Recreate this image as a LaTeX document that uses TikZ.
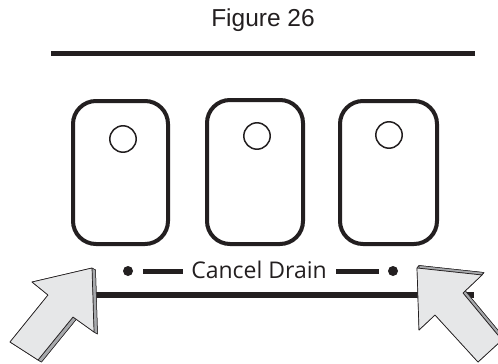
\documentclass[tikz,border=0pt]{standalone}
\usepackage{fontspec}
\setmainfont{Liberation Sans}
\newfontfamily\cdfont{Open Sans}
\usetikzlibrary{calc}
\definecolor{ink}{HTML}{231F20}
\definecolor{facegray}{HTML}{E6E7E8}
\definecolor{sidegray}{HTML}{A7A9AC}
\tikzset{
  btn/.style={draw=ink, line width=4pt, rounded corners=23pt},
  hole/.style={draw=ink, line width=1.5pt},
  thickbar/.style={draw=ink, line width=5pt},
  face/.style={fill=facegray, draw=ink, line width=0.7pt, line join=round},
  side/.style={fill=sidegray, draw=ink, line width=0.5pt, line join=round},
  dot/.style={circle, fill=ink, inner sep=0pt, minimum size=10pt},
}
\begin{document}
\begin{tikzpicture}[x=1pt,y=-1pt]
\useasboundingbox (0,0) rectangle (498,364);
\clip (0,0) rectangle (498,364);
\fill[white] (0,0) rectangle (498,364);

% title
\node[anchor=base, font=\fontsize{24.5}{28}\selectfont, text=ink, inner sep=0pt] (title) at (263,26) {Figure 26};
\coordinate (tl) at (51,53);
\coordinate (tr) at (475,53);
\draw[thickbar] (tl) -- (tr);

% buttons
\draw[btn] (73,101) rectangle (168,244);
\draw[btn] (207,100) rectangle (303,244);
\draw[btn] (340,101) rectangle (437,244);
\draw[hole] (123,139) circle (13.2);
\draw[hole] (257,136) circle (13.2);
\draw[hole] (389,135) circle (13.2);

% cancel drain row
\node[anchor=base, font=\cdfont\fontsize{23}{27}\selectfont, text=ink, inner sep=0pt] (cd) at (259,278) {Cancel Drain};
\node[dot] (d1) at (128,271) {};
\node[dot] (d2) at (393,271) {};
\coordinate (l1a) at (143,271);
\coordinate (l1b) at (183,271);
\coordinate (l2a) at (336,271);
\coordinate (l2b) at (379,271);
\draw[thickbar] (l1a) -- (l1b);
\draw[thickbar] (l2a) -- (l2b);

% bottom bar
\coordinate (bl) at (60,295);
\coordinate (br) at (474,295);
\draw[draw=ink, line width=6pt] (bl) -- (br);

% left arrow
\coordinate (a1) at (92,268);
\coordinate (a2) at (32,282);
\coordinate (a3) at (48,295);
\coordinate (a4) at (10,342);
\coordinate (a5) at (38,360);
\coordinate (a6) at (73,317);
\coordinate (a7) at (94,332);
\foreach \i in {1,...,7} \coordinate (b\i) at ($(a\i)+(3.5,2)$);
\filldraw[side] (b1)--(b2)--(b3)--(b4)--(b5)--(b6)--(b7)--cycle;
\foreach \i/\j in {1/2,2/3,3/4,4/5,5/6,6/7,7/1}
  \filldraw[side] (a\i)--(a\j)--(b\j)--(b\i)--cycle;
\filldraw[face] (a1)--(a2)--(a3)--(a4)--(a5)--(a6)--(a7)--cycle;

% right arrow
\coordinate (c1) at (417,268);
\coordinate (c2) at (482,275);
\coordinate (c3) at (463,293);
\coordinate (c4) at (502,340);
\coordinate (c5) at (478,362);
\coordinate (c6) at (435,315);
\coordinate (c7) at (419,330);
\foreach \i in {1,...,7} \coordinate (e\i) at ($(c\i)+(2,-2.5)$);
\filldraw[side] (e1)--(e2)--(e3)--(e4)--(e5)--(e6)--(e7)--cycle;
\foreach \i/\j in {1/2,2/3,3/4,4/5,5/6,6/7,7/1}
  \filldraw[side] (c\i)--(c\j)--(e\j)--(e\i)--cycle;
\filldraw[face] (c1)--(c2)--(c3)--(c4)--(c5)--(c6)--(c7)--cycle;
\end{tikzpicture}
\end{document}
